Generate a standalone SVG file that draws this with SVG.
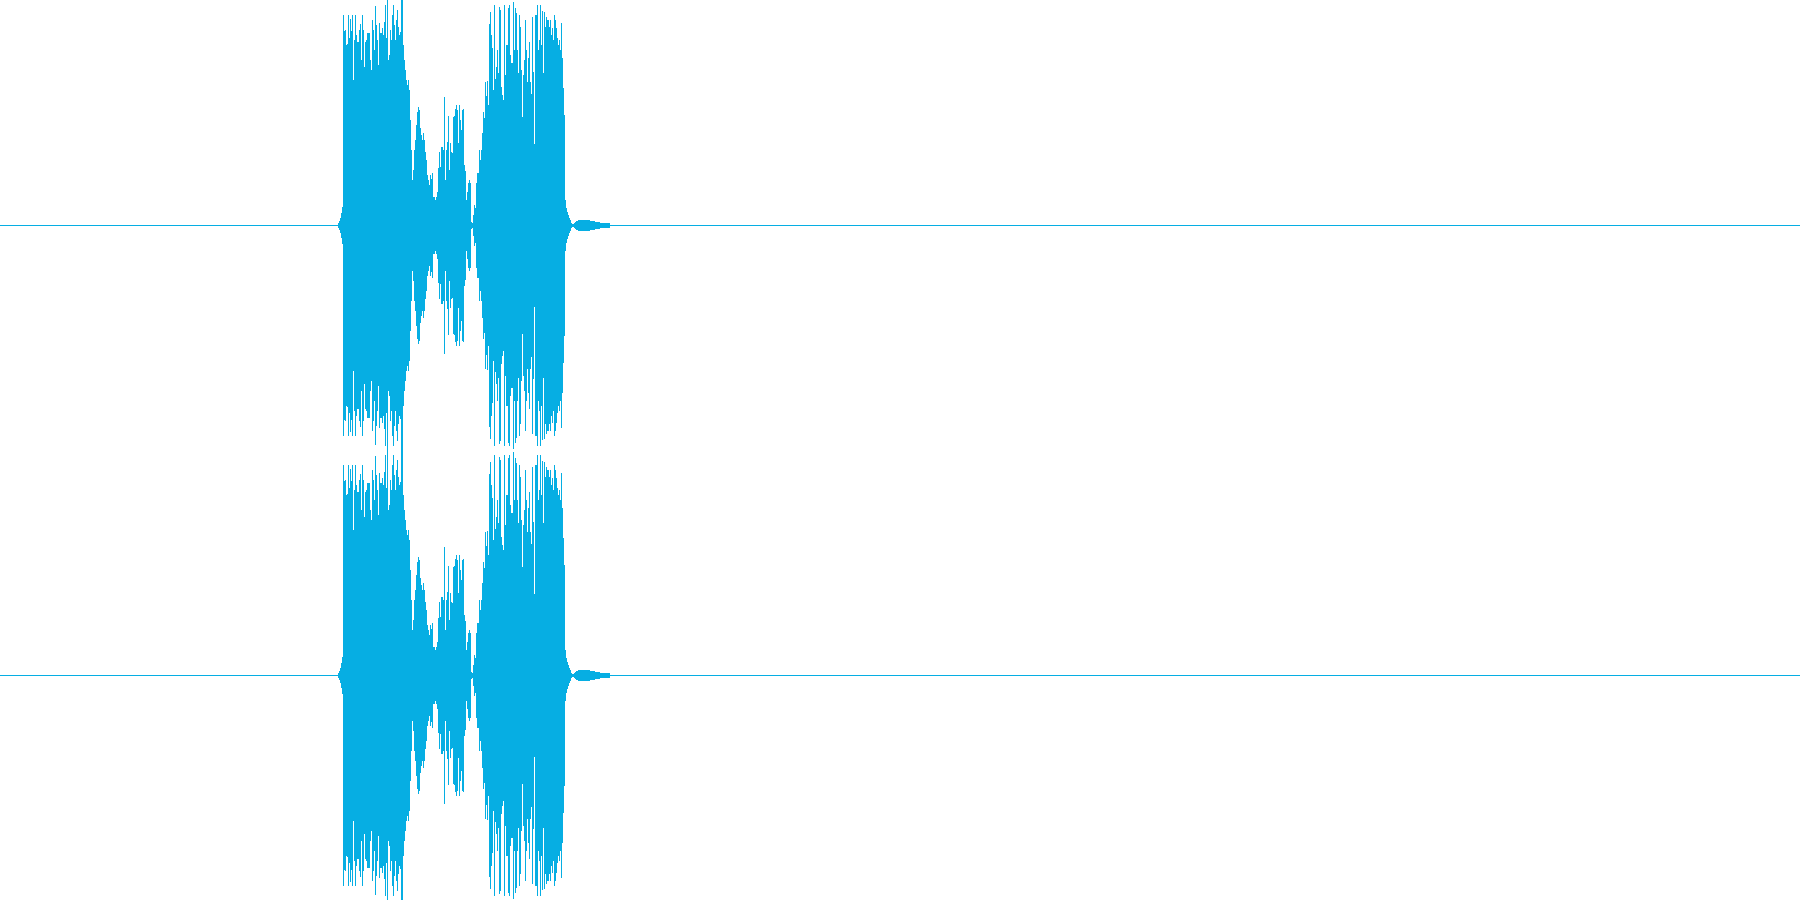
<svg xmlns="http://www.w3.org/2000/svg" xmlns:xlink="http://www.w3.org/1999/xlink" width="1800" height="900" viewBox="0 0 1800 900">
<style>
.wave{fill:#06aee3;stroke:none;shape-rendering:crispEdges}
</style>
<rect x="0" y="0" width="1800" height="900" fill="#ffffff"/>
<g id="channel-1">
<rect class="wave" x="0" y="225" width="1800" height="1"/>
<path class="wave" d="M338,226V223H339V221H340V218H341V213H342V207H343V15H344V31H345V30H346V45H347V44H348V15H349V38H350V19H351V31H352V15H353V80H354V40H355V15H356V35H357V42H358V42H359V30H360V24H361V60H362V15H363V30H364V67H365V42H366V40H367V33H368V33H369V33H370V60H371V70H372V20H373V30H374V50H375V6H376V25H377V40H378V65H379V23H380V33H381V33H382V28H383V35H384V22H385V5H386V38H387V0H388V60H389V55H390V30H391V40H392V15H393V5H394V25H395V40H396V20H397V10H398V27H399V35H400V32H401V0H402V0H403V45H404V60H405V70H406V80H407V85H408V80H409V90H410V120H411V150H412V180H413V170H414V150H415V140H416V125H417V112H418V107H419V110H420V128H421V135H422V140H423V133H424V140H425V152H426V160H427V175H428V180H429V185H430V175H431V179H432V173H433V197H434V197H435V200H436V197H437V192H438V168H439V152H440V167H441V147H442V147H443V150H444V97H445V180H446V150H447V142H448V116H449V170H450V143H451V152H452V153H453V117H454V116H455V109H456V105H457V110H458V143H459V105H460V120H461V130H462V110H463V109H464V165H465V171H466V200H467V192H468V183H469V180H470V183H471V222H472V223H473V215H474V205H475V208H476V183H477V173H478V173H479V150H480V160H481V150H482V133H483V112H484V118H485V82H486V96H487V81H488V105H489V24H490V12H491V35H492V48H493V90H494V5H495V79H496V67H497V50H498V73H499V7H500V10H501V87H502V95H503V100H504V5H505V75H506V45H507V45H508V8H509V5H510V55H511V63H512V63H513V2H514V50H515V8H516V13H517V50H518V73H519V15H520V27H521V70H522V117H523V75H524V60H525V20H526V50H527V82H528V58H529V42H530V82H531V94H532V17H533V72H534V144H535V15H536V15H537V5H538V50H539V40H540V5H541V45H542V11H543V73H544V12H545V27H546V17H547V20H548V20H549V27H550V20H551V35H552V28H553V40H554V15H555V20H556V28H557V38H558V45H559V40H560V50H561V23H562V58H563V88H564V115H565V200H566V208H567V212H568V215H569V218H570V220H571V223H572V224H573V224H574V223H575V222H576V221H578V220H590V221H595V222H600V223H610V228H600V229H595V230H590V231H578V230H576V229H575V228H574V227H573V227H572V228H571V231H570V233H569V236H568V239H567V243H566V251H565V336H564V363H563V393H562V428H561V401H560V411H559V406H558V413H557V423H556V431H555V436H554V411H553V423H552V416H551V431H550V424H549V431H548V431H547V434H546V424H545V439H544V378H543V440H542V406H541V446H540V411H539V401H538V446H537V436H536V436H535V307H534V379H533V434H532V357H531V369H530V409H529V393H528V369H527V401H526V431H525V391H524V376H523V334H522V381H521V424H520V436H519V378H518V401H517V438H516V443H515V401H514V449H513V388H512V388H511V396H510V446H509V443H508V406H507V406H506V376H505V446H504V351H503V356H502V364H501V441H500V444H499V378H498V401H497V384H496V372H495V446H494V361H493V403H492V416H491V439H490V427H489V346H488V370H487V355H486V369H485V333H484V339H483V318H482V301H481V291H480V301H479V278H478V278H477V268H476V243H475V246H474V236H473V228H472V229H471V268H470V271H469V268H468V259H467V251H466V280H465V286H464V342H463V341H462V321H461V331H460V346H459V308H458V341H457V346H456V342H455V335H454V334H453V298H452V299H451V308H450V281H449V335H448V309H447V301H446V271H445V354H444V301H443V304H442V304H441V284H440V299H439V283H438V259H437V254H436V251H435V254H434V254H433V278H432V272H431V276H430V266H429V271H428V276H427V291H426V299H425V311H424V318H423V311H422V316H421V323H420V341H419V344H418V339H417V326H416V311H415V301H414V281H413V271H412V301H411V331H410V361H409V371H408V366H407V371H406V381H405V391H404V406H403V450H402V450H401V419H400V416H399V424H398V441H397V431H396V411H395V426H394V446H393V436H392V411H391V421H390V396H389V391H388V450H387V413H386V446H385V429H384V416H383V423H382V418H381V418H380V428H379V386H378V411H377V426H376V445H375V401H374V421H373V431H372V381H371V391H370V418H369V418H368V418H367V411H366V409H365V384H364V421H363V436H362V391H361V427H360V421H359V409H358V409H357V416H356V436H355V411H354V371H353V436H352V420H351V432H350V413H349V436H348V407H347V406H346V421H345V420H344V436H343V244H342V238H341V233H340V230H339V228H338Z"/>
</g>
<g id="channel-2">
<use xlink:href="#channel-1" href="#channel-1" transform="translate(0,450)"/>
</g>
</svg>
